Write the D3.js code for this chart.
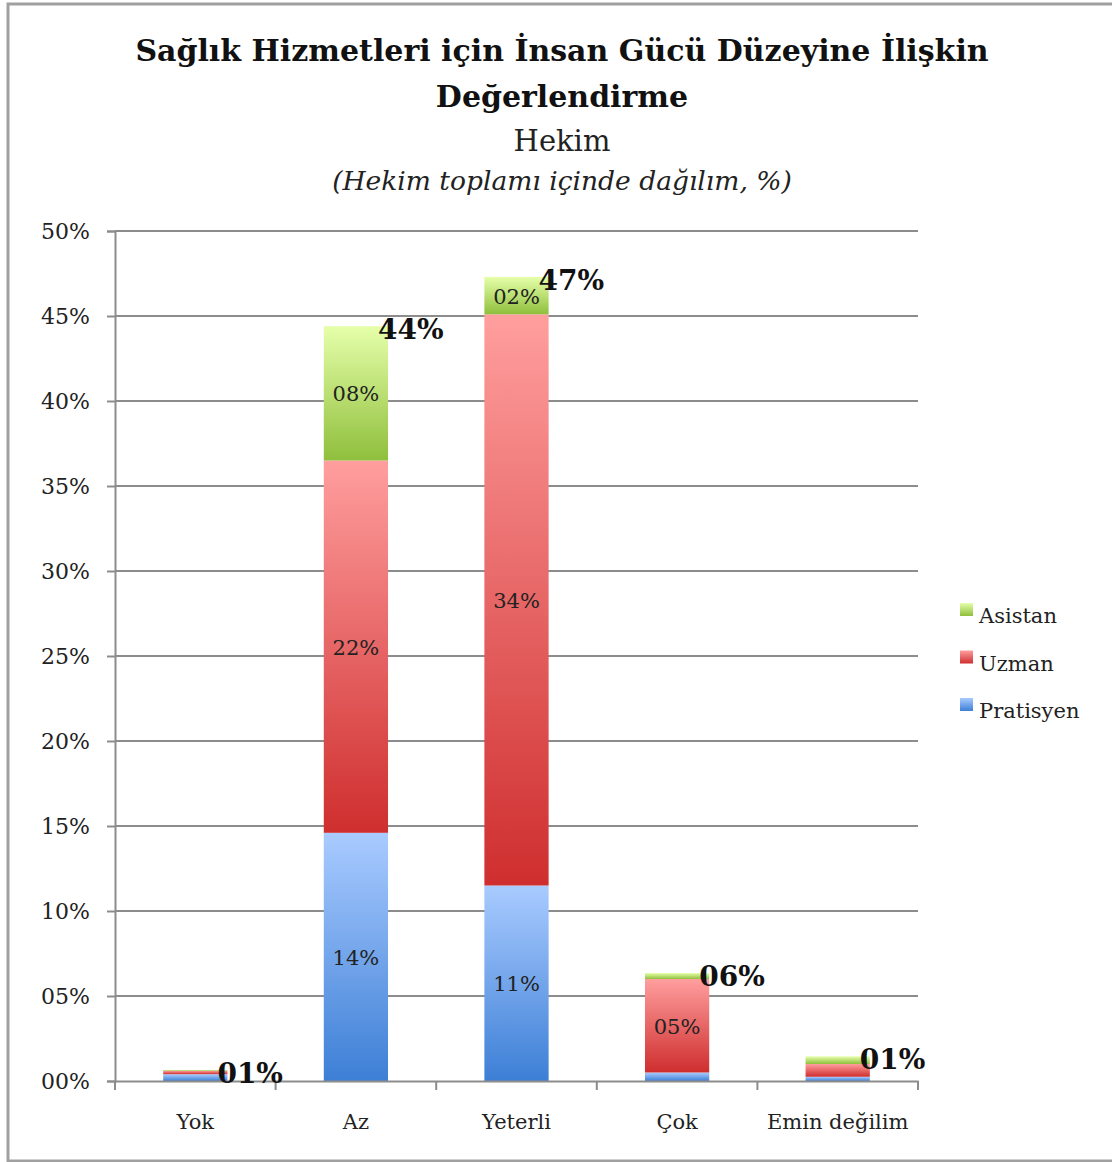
<!DOCTYPE html>
<html>
<head>
<meta charset="utf-8">
<script src="https://cdn.jsdelivr.net/npm/d3@7"></script>
<style>
  body { margin: 0; background: #fff; }
  svg { display: block; font-family: "DejaVu Serif", "Liberation Serif", serif; }
</style>
</head>
<body>
<script>
    var width = 1112, height = 1162;

    // data (percent of all physicians)
    var categories = ["Yok", "Az", "Yeterli", "Çok", "Emin değilim"];
    var seriesNames = ["Pratisyen", "Uzman", "Asistan"];
    var pratisyen = [0.4, 14.6, 11.5, 0.5, 0.25];
    var uzman = [0.2, 21.9, 33.6, 5.5, 0.75];
    var asistan = [0.05, 7.9, 2.2, 0.35, 0.45];
    var segmentLabels = [["", "14%", "11%", "", ""], ["", "22%", "34%", "05%", ""], ["", "08%", "02%", "", ""]];
    var totalLabels = ["01%", "44%", "47%", "06%", "01%"];
    var yTicks = [0, 5, 10, 15, 20, 25, 30, 35, 40, 45, 50];

    var values = [pratisyen, uzman, asistan];
    var rows = categories.map(function(c, i) {
        var r = { cat: c };
        seriesNames.forEach(function(s, j) { r[s] = values[j][i]; });
        return r;
    });
    var stacked = d3.stack().keys(seriesNames)(rows);

    var svg = d3.select("body").append("svg").attr("width", width).attr("height", height);

    // outer frame
    svg.append("rect").attr("x", 8).attr("y", 4).attr("width", width + 10).attr("height", height - 5)
        .style("fill", "none").style("stroke", "#a0a0a0").style("stroke-width", 3);

    /* gradients for the bars */
    var grads = {
        "Pratisyen": ["#a9cbff", "#3d7fd6"],
        "Uzman": ["#ff9e9e", "#cf2e2e"],
        "Asistan": ["#e6ffaa", "#8fbf3c"]
    };
    var defs = svg.append("defs");
    seriesNames.forEach(function(s) {
        var g = defs.append("linearGradient").attr("id", "g" + s)
            .attr("x1", 0).attr("y1", 0).attr("x2", 0).attr("y2", 1);
        g.append("stop").attr("offset", "0%").attr("stop-color", grads[s][0]);
        g.append("stop").attr("offset", "100%").attr("stop-color", grads[s][1]);
    });

    var x = d3.scaleBand().domain(categories).range([115, 918]).paddingInner(0.6).paddingOuter(0.3);
    var band = d3.scaleBand().domain(categories).range([115, 918]);
    var y = d3.scaleLinear().domain([0, 50]).range([1081, 231]);

    // gridlines
    svg.append("g").selectAll("line").data(yTicks.slice(1)).join("line")
        .attr("x1", 115).attr("x2", 918)
        .attr("y1", function(d) { return y(d); }).attr("y2", function(d) { return y(d); })
        .style("stroke", "#8c8c8c").style("stroke-width", 2);

    // y axis
    var yAxis = svg.append("g").attr("transform", "translate(115,0)")
        .call(d3.axisLeft(y).tickValues(yTicks).tickSize(8).tickPadding(17)
            .tickFormat(function(d) { return (d < 10 ? "0" : "") + d + "%"; }))
        .attr("font-family", null).attr("font-size", null);
    yAxis.select(".domain").style("stroke", "#8c8c8c").style("stroke-width", 2);
    yAxis.selectAll(".tick line").style("stroke", "#8c8c8c").style("stroke-width", 2);
    yAxis.selectAll("text").style("font-size", "22px").style("fill", "#222");

    // bars
    var layer = svg.append("g").selectAll("g").data(stacked).join("g")
        .style("fill", function(d) { return "url(#g" + d.key + ")"; });
    layer.selectAll("rect").data(function(d) { return d; }).join("rect")
        .attr("x", function(d) { return x(d.data.cat); })
        .attr("width", x.bandwidth())
        .attr("y", function(d) { return y(d[1]); })
        .attr("height", function(d) { return y(d[0]) - y(d[1]); });

    // x axis
    var xAxis = svg.append("g").attr("transform", "translate(0,1081)")
        .call(d3.axisBottom(band).tickSize(0).tickPadding(33))
        .attr("font-family", null).attr("font-size", null);
    xAxis.select(".domain").style("stroke", "#8c8c8c").style("stroke-width", 2);
    xAxis.selectAll("text").style("font-size", "21px").style("fill", "#222");
    svg.append("g").selectAll("line").data(categories.concat(["end"])).join("line")
        .attr("x1", function(d, i) { return 115 + i * band.bandwidth(); })
        .attr("x2", function(d, i) { return 115 + i * band.bandwidth(); })
        .attr("y1", 1081).attr("y2", 1090)
        .style("stroke", "#8c8c8c").style("stroke-width", 2);

    // segment labels
    stacked.forEach(function(s, j) {
        svg.append("g").selectAll("text").data(s).join("text")
            .attr("x", function(d) { return x(d.data.cat) + x.bandwidth() / 2; })
            .attr("y", function(d) { return (y(d[0]) + y(d[1])) / 2 + 8; })
            .attr("text-anchor", "middle")
            .style("font-size", "21px").style("fill", "#222")
            .text(function(d, i) { return segmentLabels[j][i]; });
    });

    // totals
    svg.append("g").selectAll("text").data(stacked[2]).join("text")
        .attr("x", function(d) { return x(d.data.cat) + x.bandwidth() - 10; })
        .attr("y", function(d) { return y(d[1]) + 13; })
        .style("font-size", "28px").style("font-weight", "bold").style("fill", "#111")
        .text(function(d, i) { return totalLabels[i]; });

    // legend
    var legend = svg.append("g").selectAll("g").data(seriesNames.slice().reverse()).join("g")
        .attr("transform", function(d, i) { return "translate(960," + (615 + i * 47.5) + ")"; });
    legend.append("rect").attr("x", 0).attr("y", -12).attr("width", 13).attr("height", 13)
        .style("fill", function(d) { return "url(#g" + d + ")"; });
    legend.append("text").attr("x", 19).attr("y", 8)
        .style("font-size", "21px").style("fill", "#222").text(function(d) { return d; });

    // titles
    svg.append("text").attr("x", 562).attr("y", 61).attr("text-anchor", "middle")
        .style("font-size", "30px").style("font-weight", "bold").style("fill", "#111")
        .text("Sağlık Hizmetleri için İnsan Gücü Düzeyine İlişkin");
    svg.append("text").attr("x", 562).attr("y", 107).attr("text-anchor", "middle")
        .style("font-size", "30px").style("font-weight", "bold").style("fill", "#111")
        .text("Değerlendirme");
    svg.append("text").attr("x", 562).attr("y", 151).attr("text-anchor", "middle")
        .style("font-size", "29px").style("fill", "#222").text("Hekim");
    svg.append("text").attr("x", 562).attr("y", 190).attr("text-anchor", "middle")
        .style("font-size", "26.5px").style("font-style", "italic").style("fill", "#222")
        .text("(Hekim toplamı içinde dağılım, %)");
</script>
</body>
</html>
